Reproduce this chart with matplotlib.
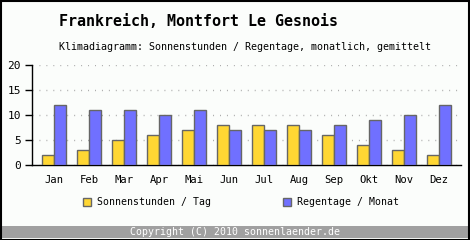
import matplotlib
matplotlib.use("Agg")
from matplotlib import pyplot as plt
from matplotlib.patches import Rectangle
import numpy as np

months = ['Jan', 'Feb', 'Mar', 'Apr', 'Mai', 'Jun', 'Jul', 'Aug', 'Sep', 'Okt', 'Nov', 'Dez']
sonne = [2, 3, 5, 6, 7, 8, 8, 8, 6, 4, 3, 2]
regen = [12, 11, 11, 10, 11, 7, 7, 7, 8, 9, 10, 12]

plt.rcParams['font.family'] = ['DejaVu Sans Mono']
W, H = 470, 240
fig = plt.figure(figsize=(W / 100, H / 100), dpi=100)
fig.patch.set_facecolor('#fbfdfb')

# plot area in pixels: x 32..461, y 65..165
ax = fig.add_axes([32 / W, 1 - 165 / H, (461 - 32) / W, 100 / H])
ax.set_facecolor('#fbfdfb')
x = np.arange(len(months))
bw = 12 / 35
ax.bar(x - bw / 2, sonne, bw, color='#ffd733', edgecolor='#666666', linewidth=1, zorder=3)
ax.bar(x + bw / 2, regen, bw, color='#7070ff', edgecolor='#666666', linewidth=1, zorder=3)
ax.set_xlim(-22 / 35, 11 + 22 / 35)
ax.set_ylim(0, 20)
ax.set_yticks([0, 5, 10, 15, 20])
ax.set_xticks(x)
ax.set_xticklabels(months)
ax.tick_params(axis='x', length=0, pad=7, labelsize=7.6)
ax.tick_params(axis='y', length=5, width=1, pad=3, labelsize=8)
ax.yaxis.grid(True, linestyle=(0, (0.7, 4.3)), color='#aaaaaa', linewidth=1, zorder=0)
for s in ['top', 'right']:
    ax.spines[s].set_visible(False)
ax.spines['left'].set_linewidth(1)
ax.spines['bottom'].set_linewidth(1)

fig.text(59 / W, 1 - 22 / H, 'Frankreich, Montfort Le Gesnois', fontsize=10.8,
         fontweight='bold', va='center', ha='left')
fig.text(59 / W, 1 - 47 / H, 'Klimadiagramm: Sonnenstunden / Regentage, monatlich, gemittelt',
         fontsize=7.2, va='center', ha='left')

# legend
for lx, col, lab in [(83, '#ffd733', 'Sonnenstunden / Tag'), (283, '#7070ff', 'Regentage / Monat')]:
    fig.patches.append(Rectangle((lx / W, 1 - 206 / H), 8 / W, 8 / H, transform=fig.transFigure,
                                 facecolor=col, edgecolor='#666666', linewidth=1))
    fig.text((lx + 14) / W, 1 - 202 / H, lab, fontsize=7.1, va='center', ha='left')

# footer
fig.patches.append(Rectangle((0, 2 / H), 1, 12 / H, transform=fig.transFigure,
                             facecolor='#a0a0a0', edgecolor='none'))
fig.text(0.5, 1 - 232 / H, 'Copyright (C) 2010 sonnenlaender.de', fontsize=7.1,
         color='white', va='center', ha='center')

# border
fig.patches.append(Rectangle((0.5 / W, 0.5 / H), 1 - 1.5 / W, 1 - 1.5 / H, transform=fig.transFigure,
                             facecolor='none', edgecolor='black', linewidth=1.5))

fig.savefig('out.png', dpi=100, facecolor=fig.get_facecolor())
